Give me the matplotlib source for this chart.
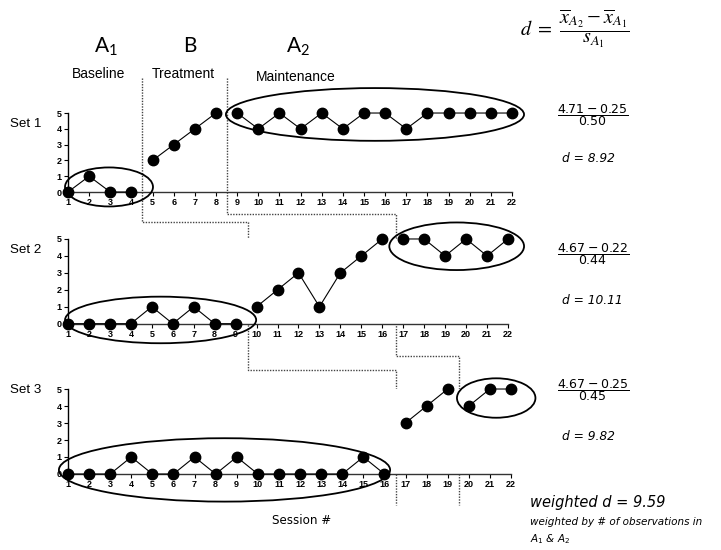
import matplotlib
matplotlib.use("Agg")
import matplotlib.pyplot as plt
from matplotlib.patches import Ellipse
from matplotlib.transforms import blended_transform_factory

# session numbers and scores per set
sessions = list(range(1, 23))
set1 = [0, 1, 0, 0, 2, 3, 4, 5, 5, 4, 5, 4, 5, 4, 5, 5, 4, 5, 5, 5, 5, 5]
set2 = [0, 0, 0, 0, 1, 0, 1, 0, 0, 1, 2, 3, 1, 3, 4, 5, 5, 5, 4, 5, 4, 5]
set3 = [0, 0, 0, 1, 0, 0, 1, 0, 1, 0, 0, 0, 0, 0, 1, 0, 3, 4, 5, 4, 5, 5]
# last session of A1 and of B in each set
a1_end = [4, 9, 16]
b_end = [8, 16, 19]
set_labels = ["Set 1", "Set 2", "Set 3"]
numerators = ["4.71 - 0.25", "4.67 - 0.22", "4.67 - 0.25"]
denominators = ["0.50", "0.44", "0.45"]
d_values = ["8.92", "10.11", "9.82"]
weighted_d = "9.59"

fig = plt.figure(figsize=(7.21, 5.5), dpi=100)

# axes rects (left, bottom, width, height) in figure fraction
rects = [(0.0943, 0.6509, 0.6158, 0.1436),
         (0.0943, 0.4115, 0.6103, 0.1540),
         (0.0943, 0.1382, 0.6144, 0.1545)]
# ellipses: (x center, y center, width, height) in data units, A1 then A2
ellipses = [[(2.94, 0.32, 4.16, 2.47), (15.52, 4.91, 14.1, 3.34)],
            [(5.42, 0.22, 9.12, 2.75), (19.55, 4.57, 6.43, 2.81)],
            [(8.42, 0.24, 15.7, 3.73), (21.3, 4.47, 3.72, 2.32)]]
label_y = [124, 250, 390]
frac_y = [115, 254, 390]
d_y = [158, 300, 437]

axes = []
for i, vals in enumerate([set1, set2, set3]):
    ax = fig.add_axes(rects[i])
    axes.append(ax)
    bounds = [0, a1_end[i], b_end[i], len(sessions)]
    for k in range(3):
        xs = sessions[bounds[k]:bounds[k + 1]]
        ys = vals[bounds[k]:bounds[k + 1]]
        ax.plot(xs, ys, color="black", lw=0.8, marker="o", ms=7.5,
                clip_on=False, zorder=3)
    ax.set_xlim(1, 22)
    ax.set_ylim(0, 5)
    ax.set_xticks(sessions)
    ax.set_yticks(range(6))
    for s in ["top", "right"]:
        ax.spines[s].set_visible(False)
    ax.spines["left"].set_linewidth(1.0)
    ax.spines["bottom"].set_linewidth(1.0)
    ax.spines["bottom"].set_color("#333333")
    ax.tick_params(direction="out", length=3, width=0.8, pad=1.5,
                   labelsize=6.5)
    for lab in ax.get_xticklabels() + ax.get_yticklabels():
        lab.set_fontweight("bold")
        lab.set_fontfamily("Liberation Sans")
    for (cx, cy, w, h) in ellipses[i]:
        ax.add_patch(Ellipse((cx, cy), w, h, fill=False, ec="black",
                             lw=1.3, clip_on=False, zorder=4))
    fig.text(10 / 721, 1 - label_y[i] / 550, set_labels[i], ha="left",
             va="center", fontsize=9.6, family="Liberation Sans")
    fig.text(593 / 721, 1 - frac_y[i] / 550,
             r"$\dfrac{%s}{%s}$" % (numerators[i], denominators[i]),
             ha="center", va="center", fontsize=9,
             math_fontfamily="dejavusans")
    fig.text(562 / 721, 1 - d_y[i] / 550, "d = " + d_values[i],
             ha="left", va="center", fontsize=8.8, style="italic",
             family="DejaVu Sans")

# phase change lines (staircase, dotted)
trans = blended_transform_factory(axes[0].transData, fig.transFigure)
top, bottom = 1 - 78 / 550, 1 - 505 / 550
for ends, steps in [(a1_end, [1 - 222 / 550, 1 - 370 / 550]),
                    (b_end, [1 - 214 / 550, 1 - 355.7 / 550])]:
    xs = [ends[0] + 0.5, ends[0] + 0.5, ends[1] + 0.5, ends[1] + 0.5,
          ends[2] + 0.5, ends[2] + 0.5]
    ys = [top, steps[0], steps[0], steps[1], steps[1], bottom]
    axes[0].plot(xs, ys, transform=trans, color="#444444", lw=1.0,
                 ls=(0, (1, 1)), clip_on=False, zorder=1)

# phase headings
fig.text(106 / 721, 1 - 47 / 550, r"$\mathregular{A_1}$", ha="center",
         va="center", fontsize=15, family="Lato")
fig.text(190 / 721, 1 - 46 / 550, "B", ha="center", va="center",
         fontsize=15, family="Lato")
fig.text(298 / 721, 1 - 47 / 550, r"$\mathregular{A_2}$", ha="center",
         va="center", fontsize=15, family="Lato")
fig.text(99 / 721, 1 - 74 / 550, "Baseline", ha="center", va="center",
         fontsize=10, family="Liberation Sans")
fig.text(183 / 721, 1 - 74 / 550, "Treatment", ha="center", va="center",
         fontsize=10, family="Liberation Sans")
fig.text(296 / 721, 1 - 77 / 550, "Maintenance", ha="center", va="center",
         fontsize=10, family="Liberation Sans")

# effect size formula
fig.text(575 / 721, 1 - 29 / 550,
         r"$d\ =\ \dfrac{\overline{x}_{A_2} - \overline{x}_{A_1}}{s_{A_1}}$",
         ha="center", va="center", fontsize=14.5, math_fontfamily="stix")

fig.text(302 / 721, 1 - 520 / 550, "Session #", ha="center", va="center",
         fontsize=8.6, family="DejaVu Sans")
fig.text(530 / 721, 1 - 502 / 550, "weighted d = " + weighted_d,
         ha="left", va="center", fontsize=10.5, style="italic",
         family="DejaVu Sans")
fig.text(530 / 721, 1 - 522 / 550, "weighted by # of observations in",
         ha="left", va="center", fontsize=7.5, style="italic",
         family="DejaVu Sans")
fig.text(530 / 721, 1 - 539 / 550, r"$A_1$ & $A_2$", ha="left",
         va="center", fontsize=7.5, style="italic", family="DejaVu Sans",
         math_fontfamily="dejavusans")

fig.savefig("out.png", dpi=100)
